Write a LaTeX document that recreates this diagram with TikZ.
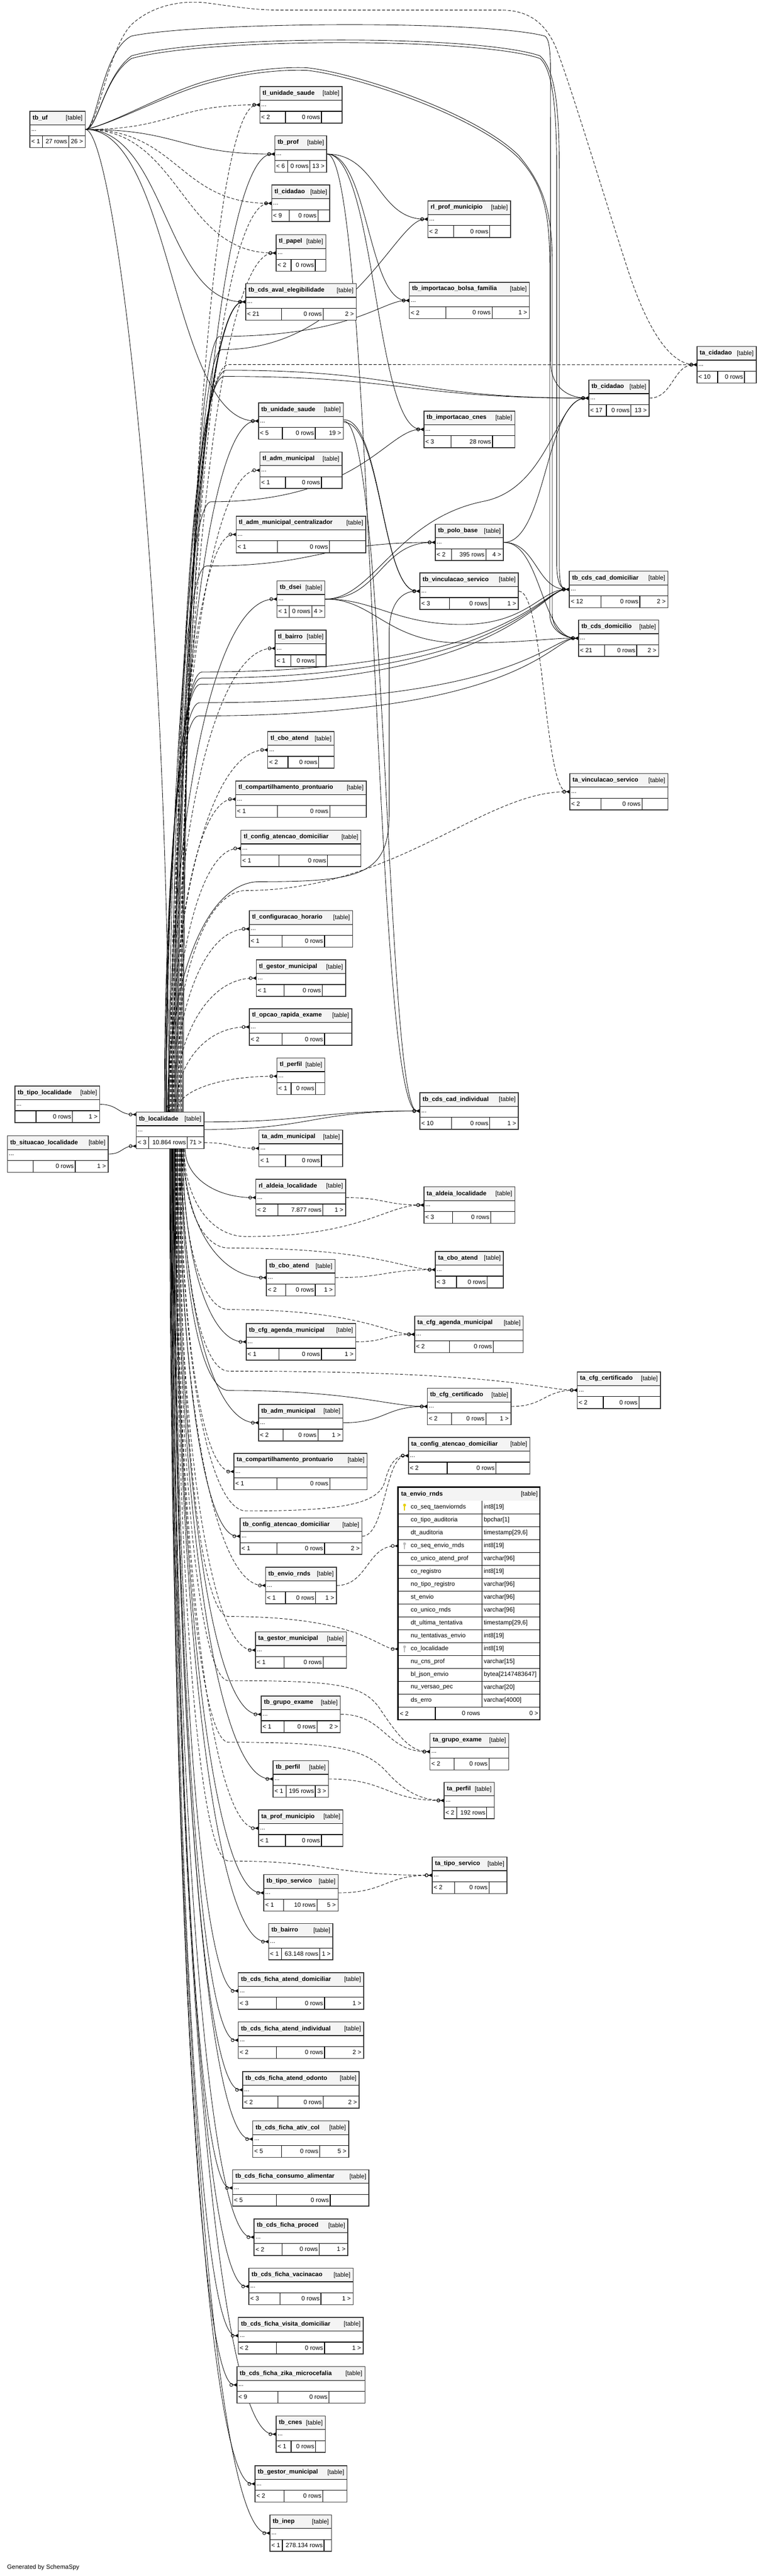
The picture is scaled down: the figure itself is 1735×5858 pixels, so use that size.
\documentclass[tikz,border=0pt]{standalone}
\usepackage{fontspec}
\setmainfont{Liberation Sans}
\usetikzlibrary{arrows.meta,calc}
\pgfdeclarelayer{bg}
\pgfdeclarelayer{edges}
\pgfsetlayers{bg,edges,main}
\definecolor{hdrgray}{HTML}{F4F4F4}
\definecolor{keygold}{HTML}{E6CF00}
\definecolor{keygray}{HTML}{BBBBBB}
\tikzset{
  cell/.style={draw=black, line width=1.4pt},
  tblbox/.style={draw=black!80, line width=1.8pt, inner sep=0pt, anchor=north west, minimum height=83pt},
  ttl/.style={font=\fontsize{14}{16}\selectfont\bfseries, inner sep=0pt},
  txt/.style={font=\fontsize{14}{16}\selectfont, inner sep=0pt},
  crow/.style={-{Circle[open,length=8pt,width=8pt,line width=1.1pt] Latex[reversed,length=8pt,width=8pt]}},
  fk/.style={line width=1pt, crow},
  fkd/.style={fk, dash pattern=on 7pt off 4pt},
  hv/.style={to path={let \p1=(\tikztostart), \p2=(\tikztotarget) in
    .. controls ({0.5*(\x1+\x2)},\y1) and ({0.5*(\x1+\x2)},\y2) .. (\tikztotarget)}},
  fan/.style={to path={let \p1=(\tikztostart), \p2=(\tikztotarget) in
    .. controls (\x1,{\y1+0.55*(\y2-\y1)}) and ({\x1+0.4*(\x2-\x1)},\y2) .. (\tikztotarget)}},
}
\begin{document}
\begin{tikzpicture}[x=1pt, y=-1pt]
\useasboundingbox (0,0) rectangle (1735,5858);
\begin{pgfonlayer}{bg}
\fill[white] (0,0) rectangle (1735,5858);
\end{pgfonlayer}

% tables: name / left / top / right / footer splits / footer texts
\foreach \n/\xa/\ya/\xb/\ca/\cb/\fa/\fb/\fc in {
  tb_uf/67/252/193/97/156/< 1/27 rows/26 >,
  tl_unidade_saude/590/196/777/649/731/< 2/0 rows/,
  tb_prof/624/308/742/654/705/< 6/0 rows/13 >,
  tl_cidadao/617/420/749/658/723/< 9/0 rows/,
  tl_papel/627/533/740/662/717/< 2/0 rows/,
  tb_cds_aval_elegibilidade/558/644/809/640/735/< 21/0 rows/2 >,
  rl_prof_municipio/972/456/1160/1032/1114/< 2/0 rows/,
  tb_importacao_bolsa_familia/930/641/1203/1014/1119/< 2/0 rows/1 >,
  ta_cidadao/1584/787/1719/1632/1693/< 10/0 rows/,
  tb_cidadao/1338/863/1475/1379/1435/< 17/0 rows/13 >,
  tb_unidade_saude/587/915/780/642/717/< 5/0 rows/19 >,
  tb_importacao_cnes/963/934/1170/1026/1120/< 3/28 rows/,
  tl_adm_municipal/590/1027/777/649/731/< 1/0 rows/,
  tl_adm_municipal_centralizador/536/1173/831/631/749/< 1/0 rows/,
  tb_polo_base/989/1191/1144/1027/1105/< 2/395 rows/4 >,
  tb_vinculacao_servico/954/1302/1178/1022/1112/< 3/0 rows/1 >,
  tb_cds_cad_domiciliar/1294/1298/1518/1367/1455/< 12/0 rows/2 >,
  tb_dsei/629/1320/738/658/709/< 1/0 rows/4 >,
  tb_cds_domicilio/1315/1409/1497/1375/1448/< 21/0 rows/2 >,
  tl_bairro/625/1432/741/661/719/< 1/0 rows/,
  tl_cbo_atend/608/1663/759/655/725/< 2/0 rows/,
  tl_compartilhamento_prontuario/535/1775/832/631/750/< 1/0 rows/,
  ta_vinculacao_servico/1295/1758/1518/1367/1460/< 2/0 rows/,
  tl_config_atencao_domiciliar/547/1887/820/634/745/< 1/0 rows/,
  tl_configuracao_horario/566/2070/801/641/738/< 1/0 rows/,
  tl_gestor_municipal/582/2182/785/646/733/< 1/0 rows/,
  tl_opcao_rapida_exame/566/2293/799/641/738/< 2/0 rows/,
  tl_perfil/629/2405/738/662/718/< 1/0 rows/,
  tb_cds_cad_individual/954/2484/1178/1027/1114/< 10/0 rows/1 >,
  tb_tipo_localidade/33/2469/226/82/165//0 rows/1 >,
  tb_situacao_localidade/16/2582/245/76/171//0 rows/1 >,
  tb_localidade/309/2528/463/338/426/< 3/10.864 rows/71 >,
  ta_adm_municipal/588/2569/778/649/731/< 1/0 rows/,
  rl_aldeia_localidade/581/2681/785/632/734/< 2/7.877 rows/1 >,
  ta_aldeia_localidade/963/2698/1170/1029/1116/< 3/0 rows/,
  tb_cbo_atend/605/2863/761/650/717/< 2/0 rows/1 >,
  ta_cbo_atend/989/2845/1144/1038/1108/< 3/0 rows/,
  tb_cfg_agenda_municipal/559/3009/808/634/731/< 1/0 rows/1 >,
  ta_cfg_agenda_municipal/942/2992/1189/1022/1122/< 2/0 rows/,
  ta_cfg_certificado/1312/3119/1501/1372/1453/< 2/0 rows/,
  tb_cfg_certificado/971/3156/1161/1027/1105/< 2/0 rows/1 >,
  tb_adm_municipal/587/3193/779/644/723/< 2/0 rows/1 >,
  ta_config_atencao_domiciliar/928/3268/1204/1017/1128/< 2/0 rows/,
  ta_compartilhamento_prontuario/531/3304/834/630/750/< 1/0 rows/,
  tb_config_atencao_domiciliar/545/3451/822/630/738/< 1/0 rows/2 >,
  tb_envio_rnds/603/3563/764/649/718/< 1/0 rows/1 >,
  ta_gestor_municipal/580/3710/787/646/735/< 1/0 rows/,
  tb_grupo_exame/593/3856/773/646/721/< 1/0 rows/2 >,
  ta_grupo_exame/977/3941/1156/1033/1112/< 2/0 rows/,
  tb_perfil/620/4003/746/651/717/< 1/195 rows/3 >,
  ta_perfil/1009/4052/1123/1039/1107/< 2/192 rows/,
  ta_prof_municipio/587/4115/779/649/731/< 1/0 rows/,
  ta_tipo_servico/982/4222/1152/1034/1112/< 2/0 rows/,
  tb_tipo_servico/599/4262/768/645/721/< 1/10 rows/5 >,
  tb_bairro/610/4373/756/640/727/< 1/63.148 rows/1 >,
  tb_cds_ficha_atend_domiciliar/541/4485/826/629/738/< 3/0 rows/1 >,
  tb_cds_ficha_atend_individual/541/4597/826/629/738/< 2/0 rows/2 >,
  tb_cds_ficha_atend_odonto/551/4710/816/632/735/< 2/0 rows/2 >,
  tb_cds_ficha_ativ_col/574/4822/792/640/727/< 5/0 rows/5 >,
  tb_cds_ficha_consumo_alimentar/528/4933/838/629/751/< 5/0 rows/,
  tb_cds_ficha_proced/577/5045/790/641/726/< 2/0 rows/1 >,
  tb_cds_ficha_vacinacao/565/5157/802/637/730/< 3/0 rows/1 >,
  tb_cds_ficha_visita_domiciliar/541/5269/825/629/738/< 2/0 rows/1 >,
  tb_cds_ficha_zika_microcefalia/538/5381/829/632/748/< 9/0 rows/,
  tb_cnes/627/5493/739/662/718/< 1/0 rows/,
  tb_gestor_municipal/579/5606/788/646/734/< 2/0 rows/,
  tb_inep/613/5718/753/642/737/< 1/278.134 rows/}{
  \fill[hdrgray] (\xa,\ya) rectangle (\xb,\ya+32);
  \fill[white] (\xa,\ya+32) rectangle (\xb,\ya+83);
  \draw[cell] (\xa,\ya+32) -- (\xb,\ya+32) (\xa,\ya+57) -- (\xb,\ya+57)
              (\ca,\ya+57) -- (\ca,\ya+83) (\cb,\ya+57) -- (\cb,\ya+83);
  \node[tblbox, minimum width=\xb pt-\xa pt] (\n) at (\xa,\ya) {};
  \node[ttl, anchor=west] at (\xa+7,\ya+16) {\detokenize\expandafter{\n}};
  \node[txt, anchor=east] at (\xb-5,\ya+17) {[table]};
  \node[txt, anchor=west] at (\xa+4,\ya+45) {...};
  \node[txt, anchor=west] at (\xa+4,\ya+70) {\fa};
  \node[txt, anchor=east] at (\cb-3,\ya+70) {\fb};
  \node[txt, anchor=east] at (\xb-4,\ya+70) {\fc};
}

% ta_envio_rnds with its columns
\fill[hdrgray] (905,3382) rectangle (1228,3413);
\fill[white] (905,3413) rectangle (1228,3911);
\node[ttl, anchor=west] at (912,3397.5) {ta\_envio\_rnds};
\node[txt, anchor=east] at (1223,3398) {[table]};
\foreach \col/\ty [count=\rw] in {co_seq_taenviornds/int8[19], co_tipo_auditoria/bpchar[1],
  dt_auditoria/{timestamp[29,6]}, co_seq_envio_rnds/int8[19], co_unico_atend_prof/varchar[96],
  co_registro/int8[19], no_tipo_registro/varchar[96], st_envio/varchar[96], co_unico_rnds/varchar[96],
  dt_ultima_tentativa/{timestamp[29,6]}, nu_tentativas_envio/int8[19], co_localidade/int8[19],
  nu_cns_prof/varchar[15], bl_json_envio/bytea[2147483647], nu_versao_pec/varchar[20], ds_erro/varchar[4000]}{
  \node[txt, anchor=west, text width=191pt, minimum height=29.3pt, align=left] (\col)
    at (905,{3413+(\rw-0.5)*29.3}) {\hspace*{29pt}\detokenize\expandafter{\col}};
  \node[txt, anchor=west] at (1100,{3413+(\rw-0.5)*29.3}) {\ty};
  \draw[cell] (905,{3413+\rw*29.3}) -- (1228,{3413+\rw*29.3});
}
\foreach \rw/\kc in {1/keygold, 4/keygray, 12/keygray} {
  \fill[\kc] (920,{3413+(\rw-0.5)*29.3-5}) circle (3.3pt);
  \draw[\kc, line width=2.2pt] (920,{3413+(\rw-0.5)*29.3-4}) -- (920,{3413+(\rw-0.5)*29.3+7});
}
\draw[cell] (1096,3413) -- (1096,3882) (990,3882) -- (990,3911);
\node[txt, anchor=west] at (909,3896.5) {< 2};
\node[txt, anchor=east] at (1092,3896.5) {0 rows};
\node[txt, anchor=east] at (1224,3896.5) {0 >};
\draw[line width=3pt] (905,3382) rectangle (1228,3911);

\node[txt, anchor=west] (credit) at (16,5838) {Generated by SchemaSpy};

\begin{pgfonlayer}{edges}
% tb_uf
\draw[fkd] (tb_uf.east) to[hv] (tl_unidade_saude.west);
\draw[fk] (tb_uf.east) to[hv] (tb_prof.west);
\draw[fkd] (tb_uf.east) to[hv] (tl_cidadao.west);
\draw[fkd] (tb_uf.east) to[hv] (tl_papel.west);
\draw[fk] (tb_uf.east) to[hv] (tb_cds_aval_elegibilidade.west);
\draw[fk] (tb_uf.east) to[hv] (tb_unidade_saude.west);
\draw[fk] (tb_uf.east) .. controls (260,300) and (383,1300) .. ([xshift=-3pt]tb_localidade.north);
\draw[fkd] (tb_uf.east) .. controls (222,294) and (245,110) .. (300,55) .. controls (355,5) and (430,0) .. (480,8)
  .. controls (540,16) and (580,23) .. (640,23) -- (1140,23) .. controls (1200,23) and (1240,50) .. (1265,110)
  .. controls (1300,200) and (1390,500) .. (1430,620) .. controls (1470,740) and (1520,828) .. (ta_cidadao.west);
\draw[fk] (tb_uf.east) .. controls (220,294) and (232,115) .. (299,82) .. controls (450,50) and (1100,45) .. (1239,82)
  .. controls (1255,92) and (1252,150) .. (1252,300) -- (1252,820) .. controls (1252,880) and (1290,904) .. (tb_cidadao.west);
\foreach \o in {0,6}
  \draw[fk] (tb_uf.east) .. controls (222,294) and (236,175) .. (299,{133-\o}) .. controls (470,{85-\o}) and (1090,{85-\o}) .. (1228,{133-\o})
    .. controls ({1258+\o},160) and ({1266+\o},250) .. ({1266+\o},400) -- ({1266+\o},1280)
    .. controls ({1266+\o},1325) and (1275,1339.5) .. (tb_cds_cad_domiciliar.west);
\foreach \o in {0,6}
  \draw[fk] (tb_uf.east) .. controls (260,280) and (380,{215-\o}) .. (470,{190-\o}) .. controls (560,{165-\o}) and (640,{158-\o}) .. (697,{160-\o})
    .. controls (800,{170-\o}) and (1080,{260-\o}) .. (1180,{360-\o}) .. controls (1235,420) and ({1250+\o},480) .. ({1250+\o},600)
    -- ({1250+\o},1395) .. controls ({1250+\o},1435) and (1285,1450.5) .. (tb_cds_domicilio.west);

% tb_localidade, upwards
\foreach \tg/\s/\sty in {tl_unidade_saude/26/fkd, tb_prof/24/fk, tl_cidadao/22/fkd, tl_papel/20/fkd,
  tb_cds_aval_elegibilidade/18/fk, tb_cds_aval_elegibilidade/16/fk, tb_cds_aval_elegibilidade/14/fk,
  tb_unidade_saude/6/fk, tl_adm_municipal/2/fkd, tl_adm_municipal_centralizador/0/fkd, tb_dsei/-4/fk,
  tl_bairro/-2/fkd, tl_cbo_atend/0/fkd, tl_compartilhamento_prontuario/2/fkd, tl_config_atencao_domiciliar/4/fkd,
  tl_configuracao_horario/8/fkd, tl_gestor_municipal/10/fkd, tl_opcao_rapida_exame/12/fkd, tl_perfil/14/fkd}
  \draw[\sty] ([xshift=\s pt]tb_localidade.north) to[fan] (\tg.west);
\draw[fk] ([xshift=28pt]tb_localidade.north) to[fan] (505,795) .. controls (800,795) and (900,497.5) .. (rl_prof_municipio.west);
\draw[fk] ([xshift=30pt]tb_localidade.north) to[fan] (500,765) .. controls (800,765) and (870,682.5) .. (tb_importacao_bolsa_familia.west);
\draw[fk] ([xshift=12pt]tb_localidade.north) to[fan] (515,842) to[hv] (tb_cidadao.west);
\draw[fk] ([xshift=10pt]tb_localidade.north) to[fan] (510,856) to[hv] (tb_cidadao.west);
\draw[fkd] ([xshift=8pt]tb_localidade.north) to[fan] (520,829) to[hv] (ta_cidadao.west);
\draw[fk] ([xshift=4pt]tb_localidade.north) to[fan] (480,1141) .. controls (820,1141) and (880,975.5) .. (tb_importacao_cnes.west);
\draw[fk] ([xshift=-2pt]tb_localidade.north) to[fan] (470,1287) to[hv] (tb_polo_base.west);
\draw[fk] ([xshift=-6pt]tb_localidade.north) to[fan] (590,2005) .. controls (820,2005) and (885,1990) .. (885,1850)
  -- (885,1440) .. controls (885,1370) and (915,1343.5) .. (tb_vinculacao_servico.west);
\draw[fkd] ([xshift=6pt]tb_localidade.north) to[fan] (560,2025) .. controls (900,2025) and (1100,1799) .. (ta_vinculacao_servico.west);
\draw[fk] ([xshift=-8pt]tb_localidade.north) to[fan] (460,1528) .. controls (1150,1528) and (1230,1339.5) .. (tb_cds_cad_domiciliar.west);
\draw[fk] ([xshift=-9pt]tb_localidade.north) to[fan] (458,1542) .. controls (1150,1542) and (1230,1339.5) .. (tb_cds_cad_domiciliar.west);
\draw[fk] ([xshift=-10pt]tb_localidade.north) to[fan] (456,1556) .. controls (1150,1556) and (1230,1339.5) .. (tb_cds_cad_domiciliar.west);
\draw[fk] ([xshift=-12pt]tb_localidade.north) to[fan] (454,1598) .. controls (1180,1598) and (1245,1450.5) .. (tb_cds_domicilio.west);
\draw[fk] ([xshift=-13pt]tb_localidade.north) to[fan] (452,1628) .. controls (1190,1628) and (1255,1450.5) .. (tb_cds_domicilio.west);

% tb_localidade, sideways
\draw[fk] ([yshift=19pt]tb_localidade.east) to[hv] (tb_cds_cad_individual.west);
\draw[fk] ([yshift=2pt]tb_localidade.east) to[hv] (tb_cds_cad_individual.west);
\draw[fkd] ([yshift=-28pt]tb_localidade.east) to[hv] (ta_adm_municipal.west);
\draw[fk] (tb_tipo_localidade.east) to[hv] ([yshift=36pt]tb_localidade.west);
\draw[fk] (tb_situacao_localidade.east) to[hv] ([yshift=-36pt]tb_localidade.west);

% tb_localidade, downwards
\foreach \tg/\s/\sty in {rl_aldeia_localidade/34/fk, tb_cbo_atend/31/fk, tb_cfg_agenda_municipal/29/fk,
  tb_adm_municipal/26/fk, ta_compartilhamento_prontuario/24/fkd, tb_config_atencao_domiciliar/22/fk,
  tb_envio_rnds/20/fkd, ta_gestor_municipal/18/fkd, tb_grupo_exame/17/fk, tb_perfil/15/fk,
  ta_prof_municipio/13/fkd, tb_tipo_servico/12/fk, tb_bairro/11/fk, tb_cds_ficha_atend_domiciliar/10/fk,
  tb_cds_ficha_atend_individual/9/fk, tb_cds_ficha_atend_odonto/8/fk, tb_cds_ficha_ativ_col/7/fk,
  tb_cds_ficha_consumo_alimentar/6/fk, tb_cds_ficha_proced/5/fk, tb_cds_ficha_vacinacao/4/fk,
  tb_cds_ficha_visita_domiciliar/3/fk, tb_cds_ficha_zika_microcefalia/2/fk, tb_cnes/1/fk,
  tb_gestor_municipal/0/fk, tb_inep/-1/fk}
  \draw[\sty] ([xshift=\s pt]tb_localidade.south) to[fan] (\tg.west);
\draw[fkd] ([xshift=32pt]tb_localidade.south) to[fan] (560,2812) .. controls (820,2812) and (880,2739.5) .. (ta_aldeia_localidade.west);
\draw[fkd] ([xshift=30pt]tb_localidade.south) to[fan] (520,2838) .. controls (850,2838) and (920,2886.5) .. (ta_cbo_atend.west);
\draw[fkd] ([xshift=28pt]tb_localidade.south) to[fan] (520,2978) .. controls (820,2978) and (880,3033.5) .. (ta_cfg_agenda_municipal.west);
\draw[fkd] ([xshift=27pt]tb_localidade.south) to[fan] (520,3118) .. controls (1150,3118) and (1230,3160.5) .. (ta_cfg_certificado.west);
\draw[fk] ([xshift=25pt]tb_localidade.south) to[fan] (520,3162) .. controls (800,3162) and (880,3197.5) .. (tb_cfg_certificado.west);
\draw[fkd] ([xshift=23pt]tb_localidade.south) to[fan] (560,3436) .. controls (780,3436) and (860,3420) .. (875,3370)
  .. controls (885,3330) and (900,3309.5) .. (ta_config_atencao_domiciliar.west);
\draw[fkd] ([xshift=21pt]tb_localidade.south) to[fan] (520,3676) .. controls (820,3676) and (860,3750) .. (co_localidade.west);
\draw[fkd] ([xshift=16pt]tb_localidade.south) to[fan] (520,3822) .. controls (760,3822) and (820,3830) .. (860,3880)
  .. controls (900,3940) and (930,3982.5) .. (ta_grupo_exame.west);
\draw[fkd] ([xshift=14pt]tb_localidade.south) to[fan] (520,3962) .. controls (760,3962) and (830,3975) .. (880,4030)
  .. controls (920,4075) and (960,4093.5) .. (ta_perfil.west);
\draw[fkd] ([xshift=12pt]tb_localidade.south) to[fan] (520,4232) to[hv] (ta_tipo_servico.west);

% other tables
\draw[fk] (tb_prof.east) to[hv] (rl_prof_municipio.west);
\draw[fk] (tb_prof.east) to[hv] (tb_importacao_bolsa_familia.west);
\draw[fk] (tb_prof.east) to[hv] (tb_importacao_cnes.west);
\draw[fk] (tb_prof.east) to[hv] (tb_cds_cad_individual.west);
\draw[fk] ([yshift=3pt]tb_unidade_saude.east) to[hv] (tb_vinculacao_servico.west);
\draw[fk] ([yshift=-3pt]tb_unidade_saude.east) to[hv] (tb_vinculacao_servico.west);
\draw[fk] (tb_unidade_saude.east) .. controls (878,956.5) and (878,2525.5) .. (tb_cds_cad_individual.west);
\draw[fk] (tb_dsei.east) to[hv] (tb_polo_base.west);
\draw[fk] (tb_dsei.east) .. controls (850,1361.5) and (900,1180) .. (1100,1140) .. controls (1250,1110) and (1265,904.5) .. (tb_cidadao.west);
\draw[fk] (tb_dsei.east) .. controls (850,1361.5) and (900,1420) .. (1050,1420) .. controls (1200,1420) and (1230,1339.5) .. (tb_cds_cad_domiciliar.west);
\draw[fk] (tb_dsei.east) .. controls (850,1361.5) and (880,1462) .. (1050,1462) .. controls (1200,1462) and (1250,1450.5) .. (tb_cds_domicilio.west);
\draw[fk] (tb_polo_base.east) to[hv] (tb_cidadao.west);
\draw[fk] (tb_polo_base.east) to[hv] (tb_cds_cad_domiciliar.west);
\draw[fk] (tb_polo_base.east) to[hv] (tb_cds_domicilio.west);
\draw[fkd] (tb_vinculacao_servico.east) to[hv] (ta_vinculacao_servico.west);
\draw[fkd] (tb_cidadao.east) to[hv] (ta_cidadao.west);
\draw[fkd] (rl_aldeia_localidade.east) to[hv] (ta_aldeia_localidade.west);
\draw[fkd] (tb_cbo_atend.east) to[hv] (ta_cbo_atend.west);
\draw[fkd] (tb_cfg_agenda_municipal.east) to[hv] (ta_cfg_agenda_municipal.west);
\draw[fkd] (tb_cfg_certificado.east) to[hv] (ta_cfg_certificado.west);
\draw[fk] (tb_adm_municipal.east) to[hv] (tb_cfg_certificado.west);
\draw[fkd] (tb_config_atencao_domiciliar.east) to[hv] (ta_config_atencao_domiciliar.west);
\draw[fkd] (tb_envio_rnds.east) to[hv] (co_seq_envio_rnds.west);
\draw[fkd] (tb_grupo_exame.east) to[hv] (ta_grupo_exame.west);
\draw[fkd] (tb_perfil.east) to[hv] (ta_perfil.west);
\draw[fkd] (tb_tipo_servico.east) to[hv] (ta_tipo_servico.west);
\end{pgfonlayer}
\end{tikzpicture}
\end{document}
